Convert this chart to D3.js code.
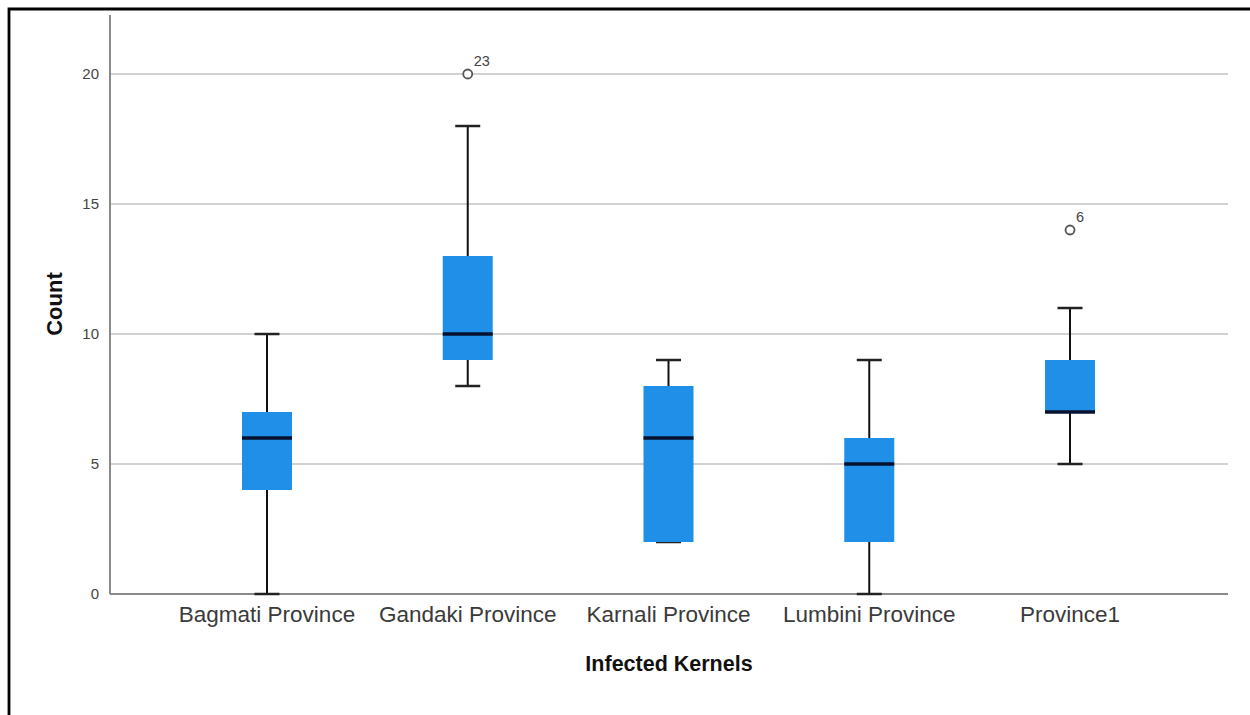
<!DOCTYPE html>
<html>
<head>
<meta charset="utf-8">
<script src="https://cdn.jsdelivr.net/npm/d3@7"></script>
<style>
  html, body { margin: 0; padding: 0; background: #fff; }
  svg { display: block; font-family: Arial, "Liberation Sans", sans-serif; }
</style>
</head>
<body>
<svg id="chart" width="1250" height="715"></svg>
<script>
// ---- data ----
const categories = ["Bagmati Province", "Gandaki Province", "Karnali Province", "Lumbini Province", "Province1"];
const whiskerLow  = [0, 8, 2, 0, 5];
const q1          = [4, 9, 2, 2, 7];
const medians     = [6, 10, 6, 5, 7];
const q3          = [7, 13, 8, 6, 9];
const whiskerHigh = [10, 18, 9, 9, 11];
const outliers = [
  { category: "Gandaki Province", value: 20, label: "23" },
  { category: "Province1", value: 14, label: "6" }
];
const yTicks = [0, 5, 10, 15, 20];
const xTitle = "Infected Kernels";
const yTitle = "Count";

// ---- layout ----
const svg = d3.select("#chart");
const plotLeft = 110, plotRight = 1228, plotTop = 15, plotBottom = 594;

const y = d3.scaleLinear().domain([0, 22.27]).range([plotBottom, plotTop]);
const x = d3.scaleBand().domain(categories).range([166.6, 1170.4]).padding(0);
const cx = c => x(c) + x.bandwidth() / 2;
const boxW = 50, capW = 25;

const boxes = categories.map((c, i) => ({
  c, lo: whiskerLow[i], q1: q1[i], med: medians[i], q3: q3[i], hi: whiskerHigh[i]
}));

// frame (top and left border lines)
svg.append("path")
  .attr("d", "M9,715 L9,9 L1250,9")
  .attr("fill", "none").attr("stroke", "#000").attr("stroke-width", 2.8);

// gridlines
svg.append("g").selectAll("line").data(yTicks.filter(t => t > 0)).join("line")
  .attr("x1", plotLeft).attr("x2", plotRight)
  .attr("y1", d => y(d)).attr("y2", d => y(d))
  .attr("stroke", "#d2d2d2").attr("stroke-width", 2);

// y axis
const yAxis = d3.axisLeft(y).tickValues(yTicks).tickSize(0).tickPadding(11).tickFormat(d3.format("d"));
const gy = svg.append("g").attr("transform", `translate(${plotLeft},0)`).call(yAxis);
gy.select(".domain").remove();
gy.selectAll("text").attr("font-size", 15).attr("fill", "#444")
  .attr("font-family", "Arial, 'Liberation Sans', sans-serif");
svg.append("line").attr("x1", plotLeft).attr("x2", plotLeft)
  .attr("y1", plotTop).attr("y2", plotBottom)
  .attr("stroke", "#8a8a8a").attr("stroke-width", 2);

// x axis
const xAxis = d3.axisBottom(x).tickSize(0).tickPadding(12);
const gx = svg.append("g").attr("transform", `translate(0,${plotBottom})`).call(xAxis);
gx.select(".domain").remove();
gx.selectAll("text").attr("font-size", 22.5).attr("fill", "#3a3a3a")
  .attr("font-family", "Arial, 'Liberation Sans', sans-serif");
svg.append("line").attr("x1", plotLeft).attr("x2", plotRight)
  .attr("y1", plotBottom).attr("y2", plotBottom)
  .attr("stroke", "#8a8a8a").attr("stroke-width", 2);

// boxplots
const g = svg.append("g");
// whiskers
g.selectAll("line.wlow").data(boxes).join("line").attr("class", "wlow")
  .attr("x1", d => cx(d.c)).attr("x2", d => cx(d.c))
  .attr("y1", d => y(d.lo)).attr("y2", d => y(d.q1))
  .attr("stroke", "#111").attr("stroke-width", 2);
g.selectAll("line.whigh").data(boxes).join("line").attr("class", "whigh")
  .attr("x1", d => cx(d.c)).attr("x2", d => cx(d.c))
  .attr("y1", d => y(d.hi)).attr("y2", d => y(d.q3))
  .attr("stroke", "#111").attr("stroke-width", 2);
g.selectAll("line.caplow").data(boxes).join("line").attr("class", "caplow")
  .attr("x1", d => cx(d.c) - capW / 2).attr("x2", d => cx(d.c) + capW / 2)
  .attr("y1", d => y(d.lo)).attr("y2", d => y(d.lo))
  .attr("stroke", "#222").attr("stroke-width", 2.5);
g.selectAll("line.caphigh").data(boxes).join("line").attr("class", "caphigh")
  .attr("x1", d => cx(d.c) - capW / 2).attr("x2", d => cx(d.c) + capW / 2)
  .attr("y1", d => y(d.hi)).attr("y2", d => y(d.hi))
  .attr("stroke", "#222").attr("stroke-width", 2.5);
// boxes
g.selectAll("rect.box").data(boxes).join("rect").attr("class", "box")
  .attr("x", d => cx(d.c) - boxW / 2).attr("width", boxW)
  .attr("y", d => y(d.q3)).attr("height", d => y(d.q1) - y(d.q3))
  .attr("fill", "#1f8fe8");
// medians
g.selectAll("line.med").data(boxes).join("line").attr("class", "med")
  .attr("x1", d => cx(d.c) - boxW / 2).attr("x2", d => cx(d.c) + boxW / 2)
  .attr("y1", d => y(d.med)).attr("y2", d => y(d.med))
  .attr("stroke", "#07122e").attr("stroke-width", 3.5);

// outliers
g.selectAll("circle.out").data(outliers).join("circle").attr("class", "out")
  .attr("cx", d => cx(d.category)).attr("cy", d => y(d.value)).attr("r", 4.5)
  .attr("fill", "#fff").attr("stroke", "#555").attr("stroke-width", 1.8);
g.selectAll("text.outlab").data(outliers).join("text").attr("class", "outlab")
  .attr("x", d => cx(d.category) + 6).attr("y", d => y(d.value) - 8)
  .attr("font-size", 14.5).attr("fill", "#444")
  .text(d => d.label);

// axis titles
svg.append("text")
  .attr("x", (plotLeft + plotRight) / 2).attr("y", 671)
  .attr("text-anchor", "middle").attr("font-size", 21.5).attr("font-weight", "bold").attr("fill", "#111")
  .text(xTitle);
svg.append("text")
  .attr("transform", "translate(62,304) rotate(-90)")
  .attr("text-anchor", "middle").attr("font-size", 22).attr("font-weight", "bold").attr("fill", "#111")
  .text(yTitle);
</script>
</body>
</html>
